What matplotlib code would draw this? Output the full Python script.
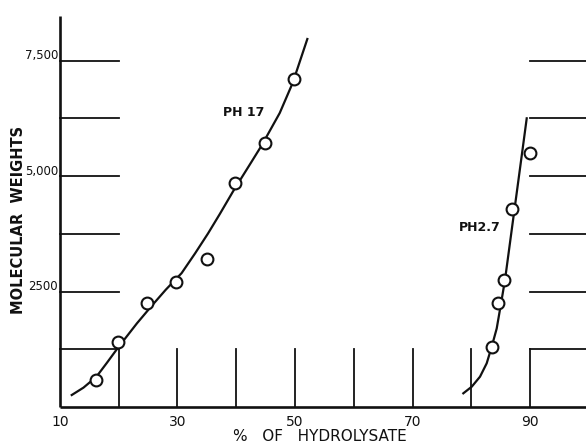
import matplotlib
matplotlib.use("Agg")
import matplotlib.pyplot as plt

# measured points, pH 1.7
ph17_x = [16.1, 19.9, 24.8, 29.7, 35.0, 39.8, 44.9, 49.9]
ph17_y = [585, 1408, 2253, 2708, 3206, 4858, 5718, 7105]
# hand drawn curve through them
ph17_curve_x = [12.0, 14.0, 16.2, 18.0, 19.9, 23.1, 25.6, 28.0, 30.7, 33.0, 35.2, 37.2,
                39.5, 42.3, 44.3, 47.4, 49.6, 52.1]
ph17_curve_y = [260, 420, 656, 960, 1290, 1813, 2190, 2540, 2900, 3329, 3760, 4180,
                4680, 5250, 5660, 6368, 7018, 7971]

# measured points, pH 2.7
ph27_x = [83.6, 84.6, 85.6, 86.9, 90.0]
ph27_y = [1293, 2246, 2751, 4282, 5508]
ph27_curve_x = [78.65, 80.08, 81.49, 82.63, 83.48, 84.33, 85.01, 85.74, 86.31, 86.99, 87.74, 88.86, 89.44]
ph27_curve_y = [297, 440, 657, 947, 1306, 1700, 2200, 2751, 3290, 3935, 4640, 5700, 6253]

xtick_vals = [10, 30, 50, 70, 90]
ytick_vals = [2500, 5000, 7500]
ytick_labels = ["2500", "5,000", "7,500"]
grid_levels = [1250, 2500, 3750, 5000, 6250, 7500]
stub_x = [20, 30, 40, 50, 60, 70, 80, 90]

ink = "#111111"
fig = plt.figure(figsize=(5.86, 4.44), dpi=100)
ax = fig.add_axes([0, 0, 1, 1])
ax.set_xlim(-0.21, 99.53)
ax.set_ylim(-801, 8816)
ax.axis("off")

# axes drawn by hand
ax.plot([10, 10], [0, 8470], color=ink, lw=1.9, solid_capstyle="butt")
ax.plot([10, 99.6], [0, 0], color=ink, lw=1.9, solid_capstyle="butt")

# short grid segments at both sides
for lvl in grid_levels:
    ax.plot([10, 20], [lvl, lvl], color=ink, lw=1.3)
    ax.plot([90, 99.6], [lvl, lvl], color=ink, lw=1.3)
for xv in stub_x:
    ax.plot([xv, xv], [0, 1250], color=ink, lw=1.3)

# curves and points
ax.plot(ph17_curve_x, ph17_curve_y, color=ink, lw=1.6, solid_joinstyle="round")
ax.plot(ph27_curve_x, ph27_curve_y, color=ink, lw=1.6, solid_joinstyle="round")
ax.plot(ph17_x, ph17_y, "o", ms=8.5, mfc="white", mec=ink, mew=1.5)
ax.plot(ph27_x, ph27_y, "o", ms=8.5, mfc="white", mec=ink, mew=1.5)

ax.text(41.3, 6369, "PH 17", fontsize=9, fontweight="bold", ha="center", va="center", color=ink)
ax.text(81.5, 3878, "PH2.7", fontsize=9, fontweight="bold", ha="center", va="center", color=ink)

for val, lab in zip(ytick_vals, ytick_labels):
    ax.text(9.7, val + 110, lab, fontsize=8.5, ha="right", va="center", color=ink)
for val in xtick_vals:
    ax.text(val, -325, str(val), fontsize=10, ha="center", va="center", color=ink)

ax.text(54.3, -645, "%   OF   HYDROLYSATE", fontsize=11, ha="center", va="center", color=ink)
ax.text(3.0, 4051, "MOLECULAR  WEIGHTS", fontsize=10.5, fontweight="bold",
        rotation=90, ha="center", va="center", color=ink)

fig.savefig("out.png", dpi=100, facecolor="white")
